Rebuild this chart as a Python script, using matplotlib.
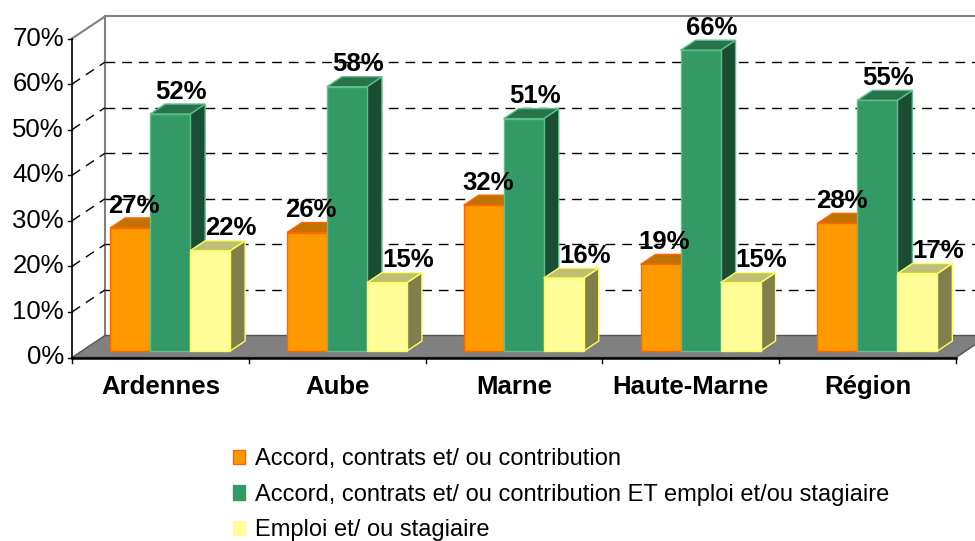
import matplotlib
matplotlib.use("Agg")
import matplotlib.pyplot as plt
from matplotlib.patches import Polygon, Patch

plt.rcParams['font.family'] = ['Liberation Sans', 'DejaVu Sans']

# donnees
categories = ["Ardennes", "Aube", "Marne", "Haute-Marne", "Région"]
series_names = ["Accord, contrats et/ ou contribution",
                "Accord, contrats et/ ou contribution ET emploi et/ou stagiaire",
                "Emploi et/ ou stagiaire"]
accord = [27, 26, 32, 19, 28]
accord_et_emploi = [52, 58, 51, 66, 55]
emploi = [22, 15, 16, 15, 17]
values = [accord, accord_et_emploi, emploi]

front_cols = ["#FF9900", "#339966", "#FFFF99"]
top_cols = ["#BF7300", "#26734C", "#BFBF73"]
side_cols = ["#804C00", "#1A4D33", "#80804C"]
edge_cols = ["#FF6600", "#5FBF8A", "#FFFF66"]

# geometrie pseudo 3D (unites de donnees)
DX, DY = 0.1866, 4.83      # profondeur du fond
F0, F1 = 0.295, 0.75       # profondeur avant / arriere des barres
W = 0.2262                 # largeur d'une barre
YMAX = 70

fig = plt.figure(figsize=(9.75, 5.41), dpi=100)
ax = fig.add_axes([72 / 975, 1 - 357.5 / 541, 903 / 975, (357.5 - 10) / 541])
ax.set_xlim(0, 903 / 176.8)
ax.set_ylim(0, (357.5 - 10) / 4.557)
ax.axis('off')

n = len(categories)

# sol
ax.add_patch(Polygon([(0, 0), (n, 0), (n + DX, DY), (DX, DY)], closed=True,
                     facecolor="#808080", edgecolor="#555555", lw=1, zorder=1, clip_on=False))
ax.plot([0, n], [0, 0], color="black", lw=1.8, zorder=2, clip_on=False)

# murs et grille
ax.plot([DX, DX], [DY, YMAX + DY], color="#808080", lw=1.5, zorder=0.5, clip_on=False)
ax.plot([DX, n + DX + 0.2], [YMAX + DY, YMAX + DY], color="#808080", lw=1.5, zorder=0.5, clip_on=False)
ax.plot([0, DX], [YMAX, YMAX + DY], color="#808080", lw=1.5, zorder=0.5, clip_on=False)
for v in range(10, YMAX, 10):
    ax.plot([DX, n + DX + 0.2], [v + DY, v + DY], color="black", lw=1,
            dashes=(7, 5), zorder=0.5, clip_on=False)
    ax.plot([0, DX], [v, v + DY], color="black", lw=1, dashes=(7, 5), zorder=0.5, clip_on=False)

# axe vertical et graduations
ax.plot([0, 0], [0, YMAX], color="black", lw=1.2, zorder=3, clip_on=False)
for v in range(0, YMAX + 1, 10):
    ax.plot([-0.025, 0], [v, v], color="black", lw=1, zorder=3, clip_on=False)
    ax.text(-0.045, v, f"{v}%", ha="right", va="center", fontsize=18.5, zorder=3)
for i in range(n + 1):
    ax.plot([i, i], [0, -1.3], color="black", lw=1, zorder=3, clip_on=False)
for i, c in enumerate(categories):
    ax.text(i + 0.5, -6.4, c, ha="center", va="center", fontsize=18.5,
            fontweight="bold", zorder=3)

# barres
z = 5
label_dx = [0.023, 0.062, 0.119]
for i in range(n):
    left = i + 0.5 - 1.5 * W
    for j in range(3):
        v = values[j][i]
        x0 = left + j * W
        x1 = x0 + W
        fx0, fx1 = x0 + F0 * DX, x1 + F0 * DX
        bx0, bx1 = x0 + F1 * DX, x1 + F1 * DX
        fy, by = F0 * DY, F1 * DY
        side = [(fx1, fy), (bx1, by), (bx1, v + by), (fx1, v + fy)]
        top = [(fx0, v + fy), (fx1, v + fy), (bx1, v + by), (bx0, v + by)]
        front = [(fx0, fy), (fx1, fy), (fx1, v + fy), (fx0, v + fy)]
        ax.add_patch(Polygon(side, closed=True, facecolor=side_cols[j],
                             edgecolor=edge_cols[j], lw=1, zorder=z))
        ax.add_patch(Polygon(top, closed=True, facecolor=top_cols[j],
                             edgecolor=edge_cols[j], lw=1, zorder=z + 0.1))
        ax.add_patch(Polygon(front, closed=True, facecolor=front_cols[j],
                             edgecolor=edge_cols[j], lw=1, zorder=z + 0.2))
        z += 1
for i in range(n):
    left = i + 0.5 - 1.5 * W
    for j in range(3):
        v = values[j][i]
        xc = left + j * W + W / 2 + F0 * DX + label_dx[j]
        ax.text(xc, v + F0 * DY + 4.9, f"{v}%", ha="center", va="center",
                fontsize=18.5, fontweight="bold", zorder=50)

# legende
handles = [Patch(facecolor=front_cols[k], edgecolor=edge_cols[k] if k == 0 else front_cols[k])
           for k in range(3)]
fig.legend(handles, series_names, loc="upper left", bbox_to_anchor=(224 / 975, 1 - 439 / 541),
           frameon=False, fontsize=17, handlelength=0.5, handleheight=0.55,
           handletextpad=0.4, labelspacing=0.57, borderaxespad=0)

fig.savefig("out.png", dpi=100)
